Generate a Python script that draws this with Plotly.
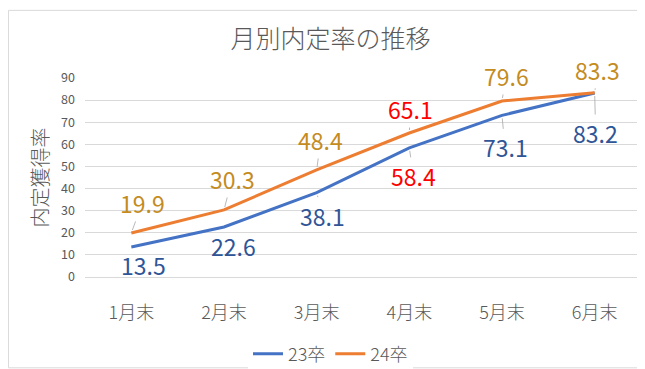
import plotly.graph_objects as go

categories = ["1月末", "2月末", "3月末", "4月末", "5月末", "6月末"]
series_names = ["23卒", "24卒"]
values_23 = [13.5, 22.6, 38.1, 58.4, 73.1, 83.2]
values_24 = [19.9, 30.3, 48.4, 65.1, 79.6, 83.3]
y_ticks = [0, 10, 20, 30, 40, 50, 60, 70, 80, 90]

# label offsets (pixels) – style only
off_23 = [(12, 18), (9, 19), (6, 23), (4, 28), (3, 32), (1, 40)]
off_24 = [(11, -30), (8, -31), (4, -30), (1, -24), (4, -25), (3, -23)]

W, H = 645, 369
L, R, T, B = 77, 12, 70, 94

LINE_23 = "#4472C4"
LINE_24 = "#ED7D31"
LAB_23 = "#2F5597"
LAB_24 = "#C48B1F"
RED = "#FF0000"
GRAY = "#595959"
FONT = "Noto Sans CJK JP"
NUMFONT = "Noto Sans CJK JP"

fig = go.Figure()
fig.add_trace(go.Scatter(x=categories, y=values_23, mode="lines", name=series_names[0],
                         line=dict(color=LINE_23, width=3)))
fig.add_trace(go.Scatter(x=categories, y=values_24, mode="lines", name=series_names[1],
                         line=dict(color=LINE_24, width=3)))

annotations = []
for vals, offs, col in ((values_23, off_23, LAB_23), (values_24, off_24, LAB_24)):
    for i, (c, v) in enumerate(zip(categories, vals)):
        color = RED if c == "4月末" else col
        annotations.append(dict(
            x=c, y=v, xref="x", yref="y", text=f"{v:.1f}",
            showarrow=True, ax=offs[i][0], ay=offs[i][1],
            arrowhead=0, arrowwidth=0.8, arrowcolor="#A6A6A6", standoff=3,
            font=dict(family=NUMFONT, size=23, color=color),
        ))

annotations.append(dict(
    text="内定獲得率", xref="paper", yref="paper", x=0, y=0.5,
    xanchor="center", yanchor="middle", xshift=-46, textangle=-90,
    showarrow=False, font=dict(family=FONT, size=20, color=GRAY, weight=300),
))

fig.update_layout(
    width=W, height=H,
    margin=dict(l=L, r=R, t=T, b=B),
    paper_bgcolor="white", plot_bgcolor="white",
    title=dict(text="月別内定率の推移", x=0.5, xref="container", xanchor="center",
               y=1 - 31 / H, yref="container", yanchor="middle",
               font=dict(family=FONT, size=25, color=GRAY, weight=300)),
    showlegend=True,
    legend=dict(orientation="h", xref="container", yref="container", x=0.5, y=1 - 346 / H,
                xanchor="center", yanchor="middle",
                font=dict(family=FONT, size=18, color=GRAY, weight=300), itemwidth=30),
    annotations=annotations,
    shapes=[dict(type="rect", xref="paper", yref="paper",
                 x0=-L / (W - L - R) + 0.0008, x1=1 + R / (W - L - R) - 0.0008,
                 y0=-B / (H - T - B) + 0.0014, y1=1 + T / (H - T - B) - 0.0014,
                 line=dict(color="#D9D9D9", width=1), layer="below")],
)
fig.update_xaxes(range=[-0.5, 5.5], showgrid=False, showline=True, linecolor="#D9D9D9",
                 linewidth=1, ticks="", ticklabelstandoff=19,
                 tickfont=dict(family=FONT, size=18, color=GRAY, weight=300))
fig.update_yaxes(range=[0, 90], tickvals=y_ticks, showgrid=True, gridcolor="#D9D9D9",
                 gridwidth=1, zeroline=False, ticks="", ticklabelstandoff=9,
                 tickfont=dict(family=FONT, size=12.5, color=GRAY))

fig.write_html("out.html")
